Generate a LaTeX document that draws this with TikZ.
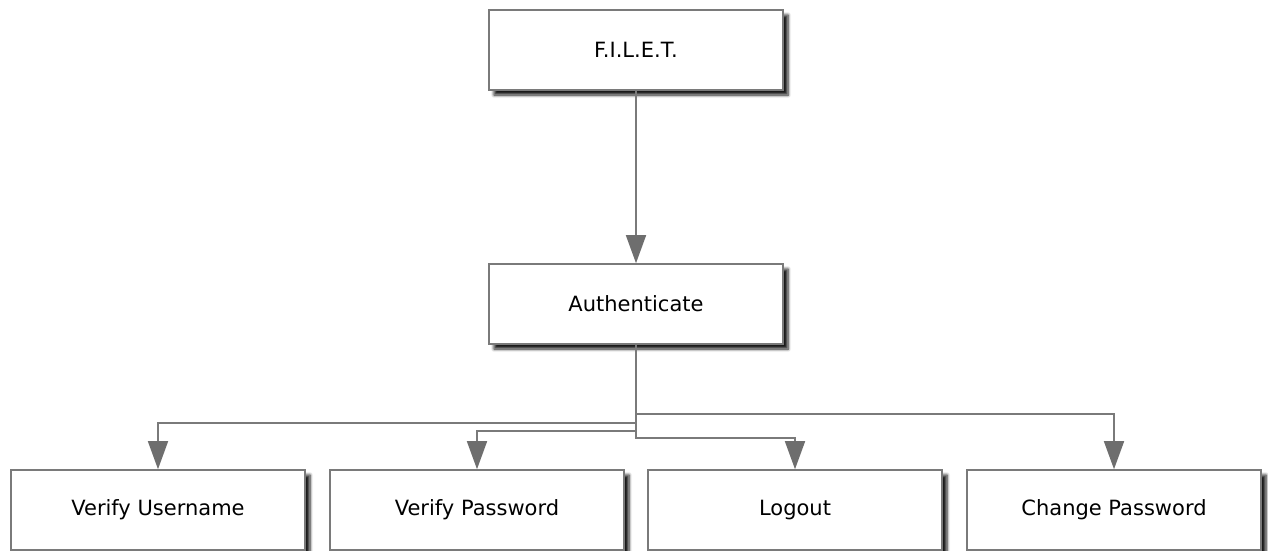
\documentclass[tikz,border=0pt]{standalone}
\usepackage{fontspec}
\setmainfont{DejaVu Sans}
\usetikzlibrary{arrows.meta,shadows.blur}

\definecolor{linegray}{HTML}{7A7A7A}
\definecolor{tipgray}{HTML}{6E6E6E}

\tikzset{
    task/.style={draw=linegray, line width=1.6pt, fill=white,
        minimum width=294pt, minimum height=80pt, font=\fontsize{21}{24}\selectfont,
        blur shadow={shadow xshift=5pt, shadow yshift=-5pt, shadow opacity=90,
            shadow blur radius=3pt, shadow blur steps=6}},
    link/.style={draw=linegray, line width=1.6pt,
        -{Triangle[length=28pt, width=20pt, fill=tipgray, color=tipgray]}}
}

\begin{document}
\begin{tikzpicture}[x=1pt, y=-1pt]
    \useasboundingbox (0, 0) rectangle (1268, 550);

    % Top
    \node[task] (filet) at (636, 50) {F.I.L.E.T.};
    \node[task] (auth) at (636, 304) {Authenticate};

    % Children
    \node[task] (user) at (158, 510) {Verify Username};
    \node[task] (pass) at (477, 510) {Verify Password};
    \node[task] (logout) at (795, 510) {Logout};
    \node[task] (change) at (1114, 510) {Change Password};

    % Connectors
    \draw[link] (filet.south) -- (auth.north);
    \draw[link] (auth.south) -- ++(0, 78) -| (user.north);
    \draw[link] (auth.south) -- ++(0, 86) -| (pass.north);
    \draw[link] (auth.south) -- ++(0, 93) -| (logout.north);
    \draw[link] (auth.south) -- ++(0, 69) -| (change.north);

\end{tikzpicture}
\end{document}
